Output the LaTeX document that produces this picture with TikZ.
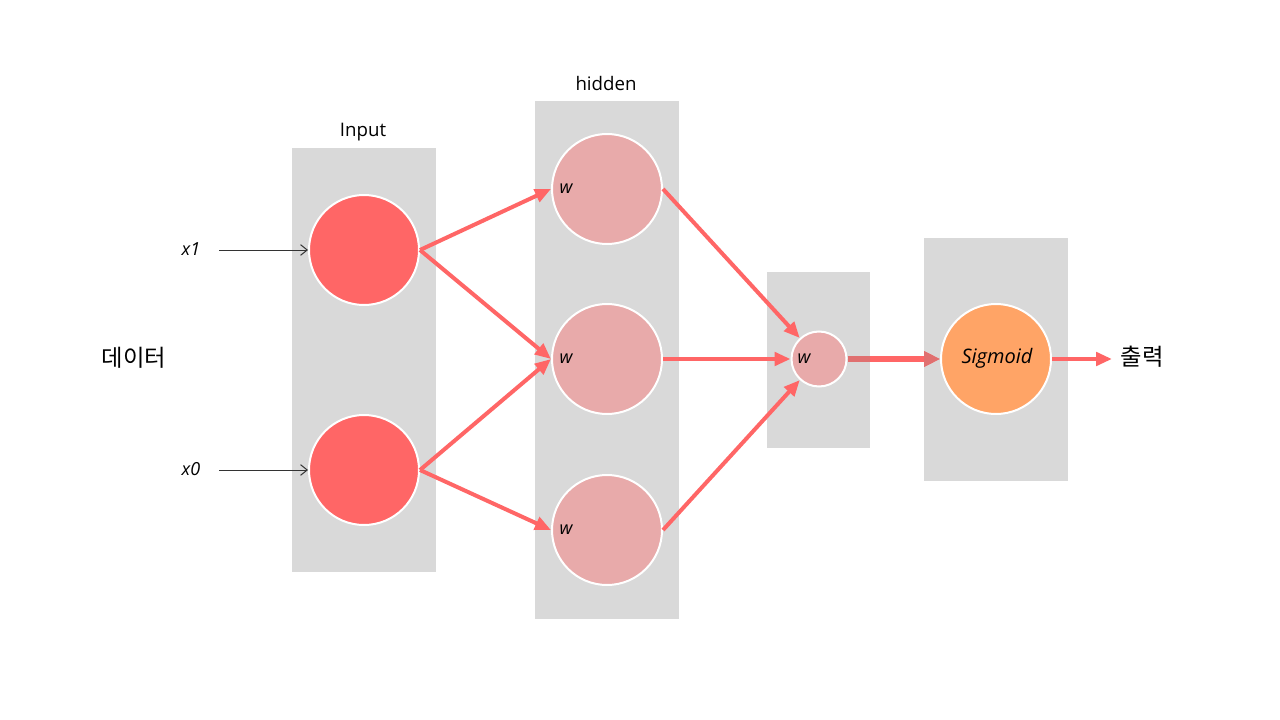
\documentclass[tikz,border=0pt]{standalone}
\usepackage{fontspec}
\setmainfont{Open Sans}
\newfontfamily\krfont{Noto Sans CJK KR}
\usetikzlibrary{arrows.meta}
\definecolor{boxgray}{HTML}{D9D9D9}
\definecolor{inred}{HTML}{FF6666}
\definecolor{hidpink}{HTML}{E8AAAA}
\definecolor{sigorange}{HTML}{FFA466}
\definecolor{arrred}{HTML}{FF6666}
\definecolor{arrdark}{HTML}{E07070}
\begin{document}
\begin{tikzpicture}[x=0.75pt,y=-0.75pt,
  panel/.style={fill=boxgray,draw=none},
  bignode/.style={circle,draw=white,line width=1.5pt,minimum size=110*0.75pt,inner sep=0pt},
  innode/.style={bignode,fill=inred},
  hidnode/.style={bignode,fill=hidpink},
  signode/.style={bignode,fill=sigorange},
  smallnode/.style={circle,draw=white,line width=1.5pt,minimum size=55*0.75pt,inner sep=0pt,fill=hidpink},
  redarrow/.style={draw=arrred,line width=3pt,-{Triangle[length=12pt,width=10pt]}},
  thickarrow/.style={line width=4.5pt,-{Triangle[length=12pt,width=11pt]}},
  thinarrow/.style={draw=black!80,line width=0.75pt,-{Straight Barb[length=5pt,width=8pt]}},
  lbl/.style={font=\fontsize{14}{16}\selectfont},
  wlbl/.style={font=\fontsize{13.5}{16}\selectfont\itshape},
  kr/.style={font=\krfont\fontsize{17.5}{20}\selectfont}
]
\useasboundingbox (0,0) rectangle (1280,720);
% panels
\fill[panel] (292,148) rectangle (436,572);
\fill[panel] (535,101) rectangle (679,619);
\fill[panel] (767,272) rectangle (870,448);
\fill[panel] (924,238) rectangle (1068,481);
% titles
\node[lbl] (tin) at (363,132) {Input};
\node[lbl] (thid) at (606,84) {hidden};
% nodes
\node[innode] (i1) at (364,250) {};
\node[innode] (i0) at (364,470) {};
\node[hidnode] (h1) at (607,189) {};
\node[hidnode] (h2) at (607,359) {};
\node[hidnode] (h3) at (607,530) {};
\node[smallnode] (s) at (819,359) {};
\node[signode] (sg) at (996,359) {};
% w labels
\node[wlbl] (w1) at (566,189) {w};
\node[wlbl] (w2) at (566,359) {w};
\node[wlbl] (w3) at (566,530) {w};
\node[wlbl] (ws) at (804,359) {w};
\node[wlbl,font=\fontsize{15}{18}\selectfont\itshape] (sgl) at (997,358) {Sigmoid};
% inputs
\node[wlbl] (x1) at (191,249) {x1};
\node[wlbl] (x0) at (191,469) {x0};
\coordinate (x1s) at (219,250);
\coordinate (x0s) at (219,470);
\draw[thinarrow] (x1s) -- (i1.west);
\draw[thinarrow] (x0s) -- (i0.west);
\node[kr] (data) at (134,358) {데이터};
\node[kr] (out) at (1142,357) {출력};
\coordinate (oute) at (1112,359);
% arrows
\draw[redarrow] (i1.east) -- (h1.west);
\draw[redarrow] (i1.east) -- (h2.west);
\draw[redarrow] (i0.east) -- (h2.west);
\draw[redarrow] (i0.east) -- (h3.west);
\draw[redarrow] (h1.east) -- (s);
\draw[redarrow] (h2.east) -- (s.west);
\draw[redarrow] (h3.east) -- (s);
\draw[thickarrow,draw=arrred,fill=arrred] (s.east) -- (sg.west);
\begin{scope}
  \clip (767,272) rectangle (870,448) (924,238) rectangle (1068,481);
  \draw[thickarrow,draw=arrdark,fill=arrdark] (s.east) -- (sg.west);
\end{scope}
\draw[redarrow] (sg.east) -- (oute);
\end{tikzpicture}
\end{document}
